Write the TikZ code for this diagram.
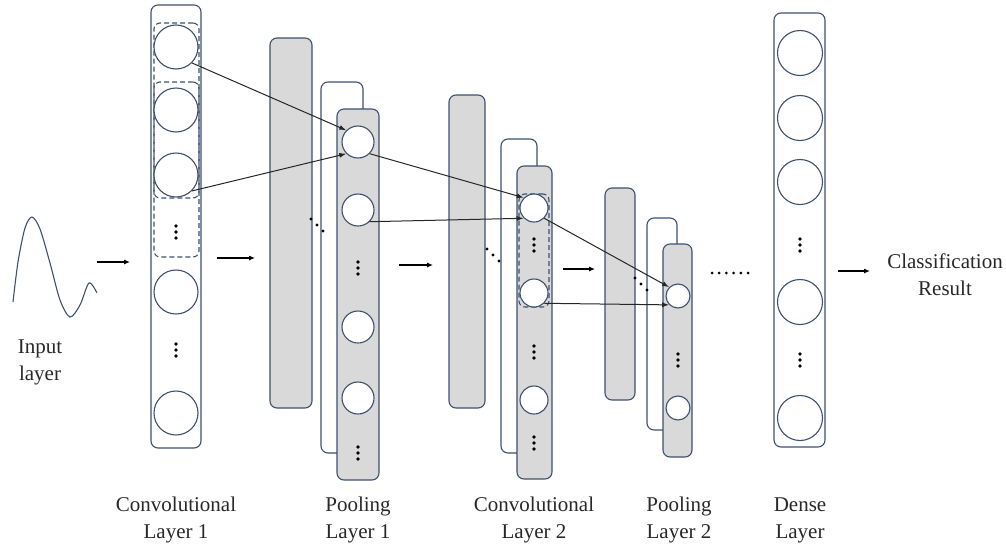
\documentclass[tikz,border=0pt]{standalone}
\usepackage{fontspec}
\setmainfont{Liberation Serif}
\newfontfamily\capfont{Liberation Serif}
\usetikzlibrary{arrows.meta}

\definecolor{boxline}{RGB}{62,80,112}
\definecolor{mapgrey}{RGB}{217,217,217}
\definecolor{labelgrey}{RGB}{40,40,40}

\tikzset{
  layerbox/.style={draw=boxline, line width=1.1pt, rounded corners=7pt, inner sep=0pt},
  mapbox/.style={layerbox, fill=mapgrey},
  backbox/.style={layerbox, fill=white},
  neuron/.style={circle, draw=boxline, line width=1.1pt, fill=white, inner sep=0pt},
  window/.style={draw=boxline, line width=1.1pt, dash pattern=on 5pt off 3pt, rounded corners=6pt, inner sep=0pt},
  link/.style={black!85, line width=1pt, -{Latex[length=7pt,width=5pt]}},
  flow/.style={black, line width=1.1pt, -{Latex[length=6pt,width=5pt]}},
  caption/.style={text=labelgrey, font=\capfont\fontsize{21}{27}\selectfont, align=center},
  coldots/.pic={\foreach \k in {-6,0,6} \fill (0,\k) circle (1.8);},
  diagdots/.pic={\foreach \k in {0,6,12} \fill (\k,\k) circle (1.7);}
}

\begin{document}
\begin{tikzpicture}[x=1pt,y=-1pt]
  \useasboundingbox (0,0) rectangle (1006,549);

  % input signal
  \draw [boxline, line width=1.1pt] plot [smooth] coordinates {(13,302) (18,262) (25,228) (32,217) (40,229) (50,263) (60,300) (70,317) (80,305) (89,283) (97,293)};
  \node[caption] (inlbl) at (40,362) {Input\\layer};

  % convolutional layer 1
  \node[layerbox, minimum width=50pt, minimum height=443pt] (conv1) at (176,226.5) {};
  \node[window, minimum width=45pt, minimum height=175pt] (win1) at (176.5,110.5) {};
  \node[window, minimum width=45pt, minimum height=175pt] (win2) at (176.5,169.5) {};
  \foreach \y [count=\i] in {47,110,175,292,413}
    \node[neuron, minimum size=44pt] (c1n\i) at (176,\y) {};
  \pic at (176,232) {coldots};
  \pic at (176,350) {coldots};

  % pooling layer 1
  \node[mapbox, minimum width=42pt, minimum height=370pt] (p1back) at (291,223) {};
  \node[backbox, minimum width=42pt, minimum height=371pt] (p1mid) at (342,267.5) {};
  \node[mapbox, minimum width=42pt, minimum height=371pt] (p1front) at (358,294.5) {};
  \foreach \y [count=\i] in {142,210,327,398}
    \node[neuron, minimum size=32pt] (p1n\i) at (358,\y) {};
  \pic at (358,268) {coldots};
  \pic at (358,453) {coldots};
  \pic at (311,219) {diagdots};

  % convolutional layer 2
  \node[mapbox, minimum width=36pt, minimum height=313pt] (c2back) at (467,251.5) {};
  \node[backbox, minimum width=36pt, minimum height=314pt] (c2mid) at (519,296) {};
  \node[mapbox, minimum width=35pt, minimum height=313pt] (c2front) at (534.5,322.5) {};
  \node[window, minimum width=30pt, minimum height=113pt] (win3) at (534,250.5) {};
  \foreach \y [count=\i] in {208,293,400}
    \node[neuron, minimum size=28pt] (c2n\i) at (534,\y) {};
  \pic at (534,245) {coldots};
  \pic at (534,352) {coldots};
  \pic at (534,443) {coldots};
  \pic at (487,249) {diagdots};

  % pooling layer 2
  \node[mapbox, minimum width=30pt, minimum height=212pt] (p2back) at (620,294) {};
  \node[backbox, minimum width=30pt, minimum height=212pt] (p2mid) at (662,324) {};
  \node[mapbox, minimum width=29pt, minimum height=213pt] (p2front) at (677.5,350.5) {};
  \foreach \y [count=\i] in {296,408}
    \node[neuron, minimum size=24pt] (p2n\i) at (678,\y) {};
  \pic at (678,360) {coldots};
  \pic at (635,278) {diagdots};
  \foreach \x in {712,719.2,...,748} \fill (\x,273) circle (1.5);

  % dense layer
  \node[layerbox, minimum width=51pt, minimum height=434pt] (dense) at (799.5,230) {};
  \foreach \y [count=\i] in {53,118,182,302,418}
    \node[neuron, minimum size=45pt] (dn\i) at (800,\y) {};
  \pic at (800,245) {coldots};
  \pic at (800,360) {coldots};

  % connections between the windows and the pooled units
  \draw[link] (c1n1.south east) -- (p1n1.north west);
  \draw[link] (c1n3.south east) -- (p1n1.south west);
  \draw[link] (p1n1.south east) -- (c2n1.north west);
  \draw[link] (p1n2.south east) -- (c2n1.south west);
  \draw[link] (c2n1.south east) -- (p2n1.north west);
  \draw[link] (c2n2.south east) -- (p2n1.south west);

  % flow between the layers
  \coordinate (f1a) at (97,262);  \coordinate (f1b) at (130,262);
  \coordinate (f2a) at (217,258); \coordinate (f2b) at (255,258);
  \coordinate (f3a) at (399,265); \coordinate (f3b) at (433,265);
  \coordinate (f4a) at (563,269); \coordinate (f4b) at (595,269);
  \coordinate (f5a) at (838,271); \coordinate (f5b) at (870,271);
  \draw[flow] (f1a) -- (f1b);
  \draw[flow] (f2a) -- (f2b);
  \draw[flow] (f3a) -- (f3b);
  \draw[flow] (f4a) -- (f4b);
  \draw[flow] (f5a) -- (f5b);
  \node[caption] (result) at (945,274.5) {Classification\\Result};

  % layer names
  \node[caption] (lbl1) at (176,520) {Convolutional\\Layer 1};
  \node[caption] (lbl2) at (358,520) {Pooling\\Layer 1};
  \node[caption] (lbl3) at (534,520) {Convolutional\\Layer 2};
  \node[caption] (lbl4) at (679,520) {Pooling\\Layer 2};
  \node[caption] (lbl5) at (800,520) {Dense\\Layer};
\end{tikzpicture}
\end{document}
